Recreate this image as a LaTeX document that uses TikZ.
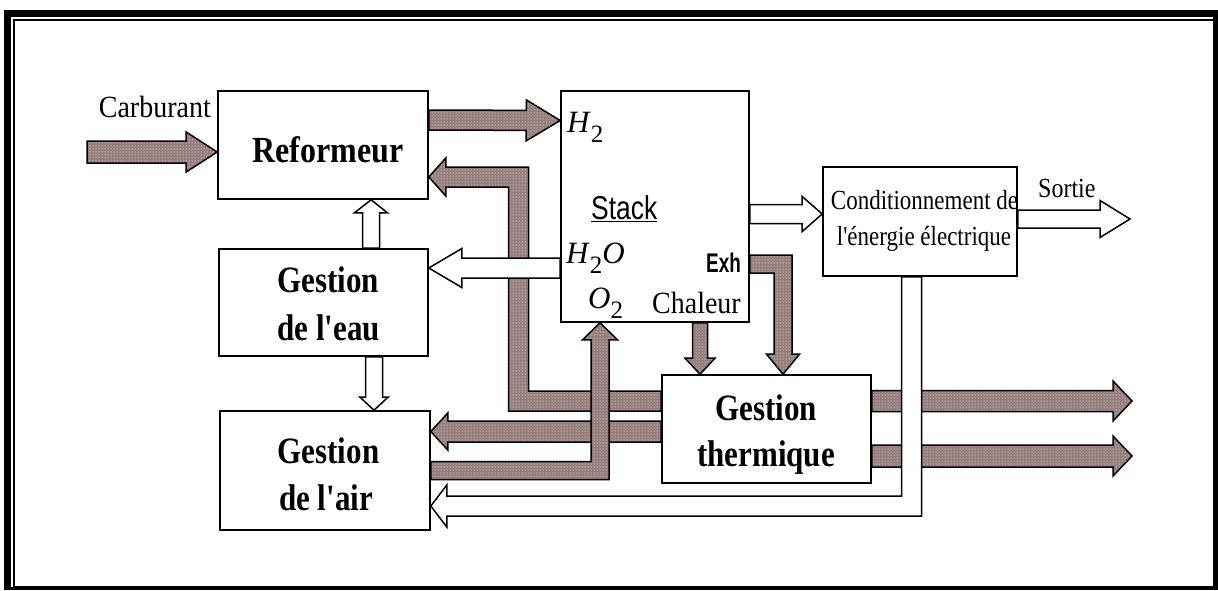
\documentclass[tikz,border=0pt]{standalone}
\usepackage{fontspec}
\setmainfont{Liberation Serif}
\setsansfont{Liberation Sans}
\usetikzlibrary{calc,patterns}
\definecolor{hatchbg}{RGB}{150,125,125}
\tikzset{
  box/.style={draw=black, line width=1.6pt, fill=white, inner sep=0pt},
  hatch/.style={preaction={fill=hatchbg}, pattern=dots, pattern color=white, draw=black, line width=1.5pt, line join=miter},
  hollow/.style={draw=black, line width=1.5pt, fill=white, line join=miter},
  lbl/.style={inner sep=0pt, anchor=base},
}
\newcommand\vst[2]{\scalebox{1}[#1]{#2}}
% straight fat arrow: style, A, B, half shaft, half head, head length
\newcommand\fatarrow[6]{%
  \coordinate (fh) at ($(#3)!#6!(#2)$);
  \draw[#1] ($(#2)!#4!90:(#3)$) -- ($(fh)!#4!90:(#3)$) -- ($(fh)!#5!90:(#3)$) -- (#3)
    -- ($(fh)!#5!-90:(#3)$) -- ($(fh)!#4!-90:(#3)$) -- ($(#2)!#4!-90:(#3)$) -- cycle;}
% one-corner fat arrow: style, A, C, B, w, h, l
\newcommand\elbowarrow[7]{%
  \coordinate (fh) at ($(#4)!#7!(#3)$);
  \draw[#1] ($(#2)!#5!90:(#3)$) -- ($(#3)!#5!-90:(#2) + (#3)!#5!90:(#4) - (#3)$)
    -- ($(fh)!#5!90:(#4)$) -- ($(fh)!#6!90:(#4)$) -- (#4) -- ($(fh)!#6!-90:(#4)$)
    -- ($(fh)!#5!-90:(#4)$) -- ($(#3)!#5!90:(#2) + (#3)!#5!-90:(#4) - (#3)$)
    -- ($(#2)!#5!-90:(#3)$) -- cycle;}
% two-corner fat arrow: style, A, C1, C2, B, w, h, l
\newcommand\looparrow[8]{%
  \coordinate (fh) at ($(#5)!#8!(#4)$);
  \draw[#1] ($(#2)!#6!90:(#3)$) -- ($(#3)!#6!-90:(#2) + (#3)!#6!90:(#4) - (#3)$)
    -- ($(#4)!#6!-90:(#3) + (#4)!#6!90:(#5) - (#4)$)
    -- ($(fh)!#6!90:(#5)$) -- ($(fh)!#7!90:(#5)$) -- (#5) -- ($(fh)!#7!-90:(#5)$)
    -- ($(fh)!#6!-90:(#5)$) -- ($(#4)!#6!90:(#3) + (#4)!#6!-90:(#5) - (#4)$)
    -- ($(#3)!#6!90:(#2) + (#3)!#6!-90:(#4) - (#3)$) -- ($(#2)!#6!-90:(#3)$) -- cycle;}
\begin{document}
\begin{tikzpicture}[x=1pt,y=-1pt]
\useasboundingbox (0,0) rectangle (1218,590);
% frame
\fill[black] (4,10) rectangle (1218,590);
\fill[white] (11,17) rectangle (1213,587);
\fill[black] (13,19) rectangle (1213,587);
\fill[white] (15,21) rectangle (1213,586);
% boxes
\node[box, minimum width=210pt, minimum height=108pt] (ref) at (323,145) {};
\node[box, minimum width=209pt, minimum height=107pt] (eau) at (323.5,302.5) {};
\node[box, minimum width=210pt, minimum height=119pt] (air) at (325,470.5) {};
\node[box, minimum width=188pt, minimum height=231pt] (stk) at (655,206.5) {};
\node[box, minimum width=194pt, minimum height=109pt] (cnd) at (920,221.5) {};
\node[box, minimum width=209pt, minimum height=108pt] (thm) at (766.5,429) {};
% Carburant
\coordinate (carbA) at (87,152);
\coordinate (carbB) at ($(ref.west)+(0,7)$);
\fatarrow{hatch}{carbA}{carbB}{11pt}{20pt}{31pt}
% H2
\coordinate (h2A) at ($(ref.east)+(0,-25)$);
\coordinate (h2B) at ($(stk.west)+(0,-86)$);
\fatarrow{hatch}{h2A}{h2B}{10pt}{20.5pt}{34pt}
% loop thermique -> reformeur
\coordinate (lpA) at ($(thm.west)+(0,-28)$);
\coordinate (lpC1) at (518.5,401);
\coordinate (lpC2) at (518.5,177);
\coordinate (lpB) at ($(ref.east)+(0,32)$);
\looparrow{hatch}{lpA}{lpC1}{lpC2}{lpB}{10pt}{19pt}{17pt}
% H2O
\coordinate (h2oA) at ($(stk.west)+(0,61.5)$);
\coordinate (h2oB) at ($(eau.east)+(0,-34.5)$);
\fatarrow{hollow}{h2oA}{h2oB}{10pt}{19.5pt}{33pt}
% thermique -> air
\coordinate (taA) at ($(thm.west)+(0,2.5)$);
\coordinate (taB) at ($(air.east)+(0,-39)$);
\fatarrow{hatch}{taA}{taB}{10.5pt}{18.5pt}{17pt}
% O2
\coordinate (o2A) at (air.east);
\coordinate (o2C) at (600,470.5);
\coordinate (o2B) at ($(stk.south)+(-55,0)$);
\elbowarrow{hatch}{o2A}{o2C}{o2B}{9pt}{17.5pt}{17pt}
% Exh
\coordinate (exA) at ($(stk.east)+(0,57.5)$);
\coordinate (exC) at (783,264);
\coordinate (exB) at ($(thm.north)+(16.5,0)$);
\elbowarrow{hatch}{exA}{exC}{exB}{9pt}{16.5pt}{20pt}
% Chaleur
\coordinate (chA) at ($(stk.south)+(45,0)$);
\coordinate (chB) at ($(thm.north)+(-66.5,0)$);
\fatarrow{hatch}{chA}{chB}{7.5pt}{15pt}{16pt}
% thermique outputs
\coordinate (r1A) at ($(thm.east)+(0,-28)$);
\coordinate (r1B) at (1132,401);
\fatarrow{hatch}{r1A}{r1B}{10.5pt}{20pt}{19pt}
\coordinate (r2A) at ($(thm.east)+(0,27)$);
\coordinate (r2B) at (1132,456);
\fatarrow{hatch}{r2A}{r2B}{11pt}{20pt}{19pt}
% Stack -> Conditionnement
\coordinate (scA) at ($(stk.east)+(0,7.5)$);
\coordinate (scB) at ($(cnd.west)+(0,-7.5)$);
\fatarrow{hollow}{scA}{scB}{9.5pt}{17.5pt}{20pt}
% Sortie
\coordinate (soA) at ($(cnd.east)+(0,-2.5)$);
\coordinate (soB) at (1130,219);
\fatarrow{hollow}{soA}{soB}{9pt}{18.5pt}{30pt}
% eau -> reformeur
\coordinate (erA) at ($(eau.north)+(47.5,0)$);
\coordinate (erB) at ($(ref.south)+(48,0)$);
\fatarrow{hollow}{erA}{erB}{8.5pt}{16.5pt}{13pt}
% eau -> air
\coordinate (eaA) at ($(eau.south)+(50.5,0)$);
\coordinate (eaB) at ($(air.north)+(49,0)$);
\fatarrow{hollow}{eaA}{eaB}{8.5pt}{14pt}{13pt}
% Conditionnement -> air
\coordinate (caA) at ($(cnd.south)+(-8.5,0)$);
\coordinate (caC) at (911.5,506);
\coordinate (caB) at ($(air.east)+(0,35.5)$);
\elbowarrow{hollow}{caA}{caC}{caB}{10pt}{21pt}{16pt}
% texts
\node[lbl, anchor=base east] (tCarb) at (211,117) {\vst{1.1}{\fontsize{28}{28}\selectfont Carburant}};
\node[lbl] (tRef) at (328,162) {\vst{1.15}{\bfseries\fontsize{32}{32}\selectfont Reformeur}};
\node[lbl] (tEau1) at (328,292) {\vst{1.2}{\bfseries\fontsize{31}{31}\selectfont Gestion}};
\node[lbl] (tEau2) at (328.5,340) {\vst{1.2}{\bfseries\fontsize{31}{31}\selectfont de l\textquotesingle eau}};
\node[lbl] (tAir1) at (328.5,463) {\vst{1.2}{\bfseries\fontsize{31}{31}\selectfont Gestion}};
\node[lbl] (tAir2) at (326,510) {\vst{1.2}{\bfseries\fontsize{31}{31}\selectfont de l\textquotesingle air}};
\node[lbl] (tThm1) at (766,420) {\vst{1.2}{\bfseries\fontsize{31}{31}\selectfont Gestion}};
\node[lbl] (tThm2) at (766,466) {\vst{1.2}{\bfseries\fontsize{31}{31}\selectfont thermique}};
\node[lbl] (tCnd1) at (924.5,209) {\vst{1.2}{\fontsize{23}{23}\selectfont Conditionnement de}};
\node[lbl] (tCnd2) at (924,245) {\vst{1.2}{\fontsize{23}{23}\selectfont l\textquotesingle énergie électrique}};
\node[lbl, anchor=base west] (tSort) at (1038,197) {\vst{1.15}{\fontsize{24}{24}\selectfont Sortie}};
\node[lbl, anchor=base west] (tStk) at (591,219) {\sffamily\scalebox{0.8}[1]{\fontsize{33}{33}\selectfont\underline{Stack}}};
\node[lbl, anchor=base east] (tExh) at (741,272) {\sffamily\bfseries\scalebox{0.7}[1]{\fontsize{27}{27}\selectfont Exh}};
\node[lbl, anchor=base east] (tChal) at (741,313) {\vst{1.1}{\fontsize{28}{28}\selectfont Chaleur}};
\node[lbl, anchor=base west] (tH2) at (567,132) {\fontsize{31}{31}\selectfont\textit{H}\raisebox{-10pt}{\fontsize{25}{25}\selectfont 2}};
\node[lbl, anchor=base west] (tH2O) at (566,263) {\fontsize{31}{31}\selectfont\textit{H}\raisebox{-10pt}{\fontsize{25}{25}\selectfont 2}\textit{O}};
\node[lbl, anchor=base west] (tO2) at (588,308) {\fontsize{31}{31}\selectfont\textit{O}\raisebox{-10pt}{\fontsize{25}{25}\selectfont 2}};
\end{tikzpicture}
\end{document}
